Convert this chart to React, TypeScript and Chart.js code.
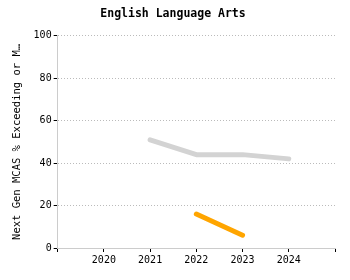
import React, { useEffect, useRef } from "react";
import { Chart, registerables } from "chart.js";

Chart.register(...registerables);

const years = [2021, 2022, 2023, 2024];
const stateValues = [51, 44, 44, 42];
const orangeYears = [2022, 2023];
const orangeValues = [16, 6];
const xTickYears = [2020, 2021, 2022, 2023, 2024];
const yTicks = [0, 20, 40, 60, 80, 100];

const FONT = "'DejaVu Sans Mono', 'Liberation Mono', monospace";

export default function App() {
  const ref = useRef<HTMLCanvasElement | null>(null);
  useEffect(() => {
    if (!ref.current) return;
    const chart = new Chart(ref.current, {
      type: "line",
      data: {
        datasets: [
          {
            label: "State",
            data: years.map((y, i) => ({ x: y, y: stateValues[i] })),
            borderColor: "#d3d3d3",
            backgroundColor: "#d3d3d3",
            borderWidth: 5,
            borderCapStyle: "round",
            borderJoinStyle: "round",
            pointRadius: 0,
            tension: 0,
          },
          {
            label: "District",
            data: orangeYears.map((y, i) => ({ x: y, y: orangeValues[i] })),
            borderColor: "#ffa500",
            backgroundColor: "#ffa500",
            borderWidth: 5,
            borderCapStyle: "round",
            borderJoinStyle: "round",
            pointRadius: 0,
            tension: 0,
          },
        ],
      },
      options: {
        animation: false,
        responsive: false,
        layout: { padding: { left: 11, right: 15, top: 0, bottom: 12 } },
        plugins: {
          legend: { display: false },
          tooltip: { enabled: false },
          title: {
            display: true,
            text: "English Language Arts",
            color: "#000",
            font: { family: FONT, size: 11.5, weight: "bold" },
            padding: { top: 7, bottom: 15 },
          },
        },
        scales: {
          x: {
            type: "linear",
            min: 2019,
            max: 2025,
            afterBuildTicks: (scale: any) => {
              const arr = [2019, ...xTickYears, 2025];
              scale.ticks = arr.map((v) => ({ value: v }));
            },
            ticks: {
              color: "#000",
              font: { family: FONT, size: 10 },
              autoSkip: false,
              maxRotation: 0,
              padding: 2,
              callback: (v: any) => (xTickYears.includes(Number(v)) ? String(v) : ""),
            },
            grid: {
              drawOnChartArea: false,
              drawTicks: true,
              tickLength: 4,
              tickColor: "#000",
            },
            border: { display: true, color: "#cccccc", width: 1 },
          },
          y: {
            min: 0,
            max: 100,
            afterBuildTicks: (scale: any) => {
              scale.ticks = yTicks.map((v) => ({ value: v }));
            },
            ticks: {
              color: "#000",
              font: { family: FONT, size: 10 },
              padding: 2,
            },
            grid: {
              color: "#bbbbbb",
              lineWidth: 1,
              tickLength: 4,
              tickColor: "#000",
              tickBorderDash: [],
            },
            border: { display: true, color: "#cccccc", width: 1, dash: [1, 2] },
            title: {
              display: true,
              text: "Next Gen MCAS % Exceeding or M…",
              color: "#000",
              font: { family: FONT, size: 10.5 },
              padding: { top: 0, bottom: 8 },
            },
          },
        },
      },
    });
    return () => chart.destroy();
  }, []);
  return (
    <div style={{ position: "fixed", left: 0, top: 0, width: 350, height: 280 }}>
      <canvas ref={ref} width={350} height={280} />
    </div>
  );
}
